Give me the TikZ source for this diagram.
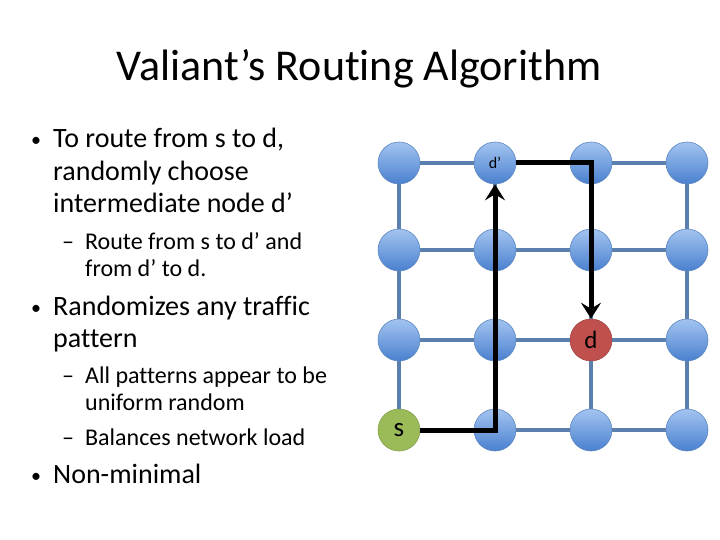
\documentclass[tikz,border=0pt]{standalone}
\usepackage{fontspec}
\setmainfont{Carlito}[Ligatures={NoCommon,NoContextual}]
\usepackage{tikz}
\usetikzlibrary{arrows.meta,calc}

\definecolor{linkblue}{HTML}{5B80AE}
\definecolor{nodetop}{HTML}{A3C4F0}
\definecolor{nodebot}{HTML}{4A80CF}
\definecolor{nodeedge}{HTML}{5C87C2}
\definecolor{srcgreen}{HTML}{9BBB59}
\definecolor{dstred}{HTML}{C0504D}

\newcommand{\bul}{\makebox[22pt][l]{\raisebox{1pt}{\fontsize{20}{20}\selectfont •}}}
\newcommand{\dsh}{\makebox[23pt][l]{–}}

\begin{document}
\begin{tikzpicture}[
        x=1pt, y=-1pt,
        line/.style={
            anchor=base west,
            inner sep=0pt,
            font=\fontsize{28}{32}\selectfont
        },
        subline/.style={
            anchor=base west,
            inner sep=0pt,
            font=\fontsize{24}{27}\selectfont
        },
        gridnode/.style={
            circle,
            minimum size=42pt,
            inner sep=0pt,
            draw=nodeedge,
            line width=0.6pt,
            top color=nodetop,
            bottom color=nodebot,
            node contents={}
        },
        nd14/.style={
            top color=srcgreen,
            bottom color=srcgreen,
            draw=srcgreen!85!black,
            font=\fontsize{27}{28}\selectfont,
            node contents={s},
            alias=s
        },
        nd33/.style={
            top color=dstred,
            bottom color=dstred,
            draw=dstred!85!black,
            font=\fontsize{25}{28}\selectfont,
            node contents={d},
            alias=d
        },
        nd21/.style={
            font=\fontsize{16}{18}\selectfont,
            node contents={d’},
            alias=dp
        },
        link/.style={
            draw=linkblue,
            line width=3.5pt
        },
        route/.style={
            -{Stealth[length=16pt,width=20pt,inset=6pt]},
            line width=5pt,
            line join=miter
        }
    ]

    \useasboundingbox (0,0) rectangle (720,540);

    % Titel
    \node[anchor=base, inner sep=0pt, font=\fontsize{44}{52}\selectfont]
        (title) at (359,81) {Valiant’s Routing Algorithm};

    % Text
    \node[line] (p1a) at (31,148) {\bul To route from s to d,};
    \node[line] (p1b) at (53,181) {randomly choose};
    \node[line] (p1c) at (53,213) {intermediate node d’};
    \node[subline] (s1a) at (62,249) {\dsh Route from s to d’ and};
    \node[subline] (s1b) at (85,276) {from d’ to d.};
    \node[line] (p2a) at (31,315) {\bul Randomizes any traffic};
    \node[line] (p2b) at (53,347) {pattern};
    \node[subline] (s2a) at (62,383) {\dsh All patterns appear to be};
    \node[subline] (s2b) at (85,410) {uniform random};
    \node[subline] (s3a) at (62,445) {\dsh Balances network load};
    \node[line] (p3a) at (31,483) {\bul Non-minimal};

    % Gitter
    \foreach \x [count=\i] in {399,495,591,687}
        \foreach \y [count=\j] in {163,250,340,430}
            \node (n\i\j) at (\x,\y) [gridnode, nd\i\j/.try];

    \foreach \i [evaluate=\i as \k using int(\i+1)] in {1,2,3}
        \foreach \j in {1,...,4} {
            \draw[link] (n\i\j) -- (n\k\j);
            \draw[link] (n\j\i) -- (n\j\k);
        }

    % Pfad
    \draw[route] (s.east) -- (s.east -| dp) -- (dp.south);
    \draw[route] (dp.east) -| (d.north);

\end{tikzpicture}
\end{document}
